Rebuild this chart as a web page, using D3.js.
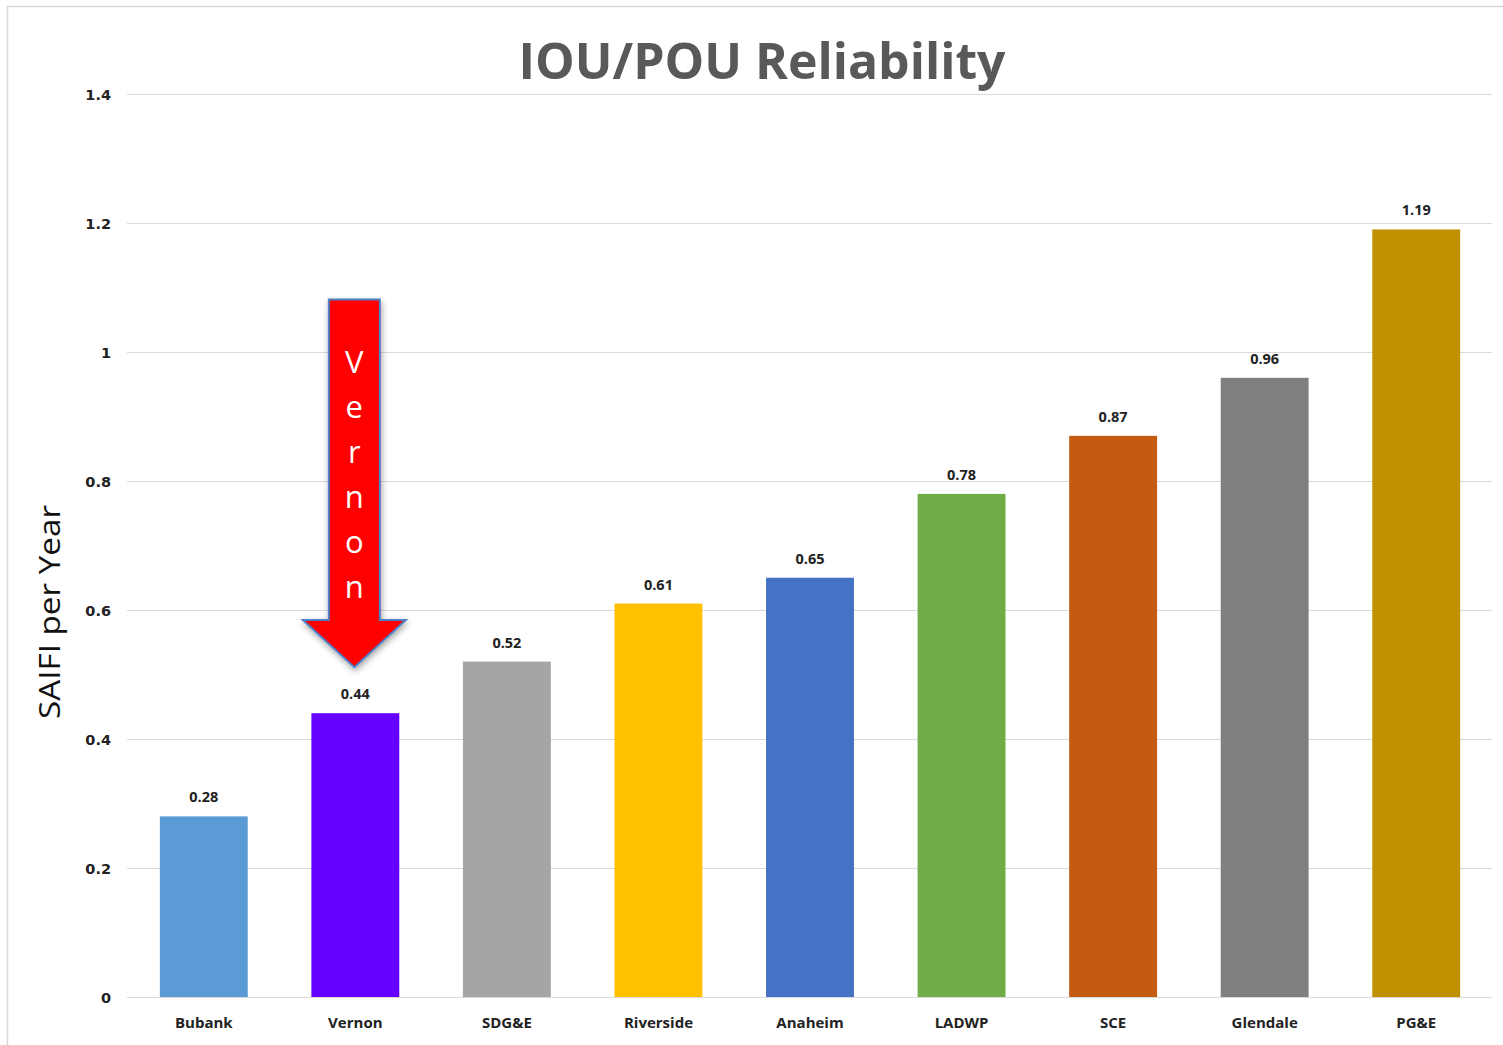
<!DOCTYPE html>
<html><head><meta charset="utf-8">
<script src="https://cdn.jsdelivr.net/npm/d3@7"></script>
<style>body{margin:0;background:#fff;} svg{display:block;}</style>
</head><body>
<script>
const categories = ["Bubank","Vernon","SDG&E","Riverside","Anaheim","LADWP","SCE","Glendale","PG&E"];
const values = [0.28,0.44,0.52,0.61,0.65,0.78,0.87,0.96,1.19];
const colors = ["#5B9BD5","#6600FF","#A5A5A5","#FFC000","#4472C4","#70AD47","#C55A11","#7F7F7F","#BF9000"];
const yTicks = [0,0.2,0.4,0.6,0.8,1,1.2,1.4];
const yTickLabels = ["0","0.2","0.4","0.6","0.8","1","1.2","1.4"];
const arrowLetters = ["V","e","r","n","o","n"];

(function(){
const W = 1503, H = 1045;
const svg = d3.select("body").append("svg").attr("width", W).attr("height", H);
svg.append("rect").attr("x",0).attr("y",0).attr("width",W).attr("height",H).attr("fill","#fff");
// outer chart border
svg.append("path").attr("d", `M7.5,${H} L7.5,6.5 L${W},6.5`).attr("fill","none").attr("stroke","#D9D9D9").attr("stroke-width",1.5);

const pLeft = 127, pRight = 1492, pTop = 94, pBottom = 997;
const x = d3.scaleBand().domain(categories).range([128, 1492]).paddingInner(0.42).paddingOuter(0.21);
const y = d3.scaleLinear().domain([0, 1.4]).range([pBottom, pTop]);

// gridlines
svg.append("g").selectAll("line").data(yTicks).join("line")
  .attr("x1", pLeft).attr("x2", pRight)
  .attr("y1", d => Math.round(y(d)) + 0.5).attr("y2", d => Math.round(y(d)) + 0.5)
  .attr("stroke", "#D9D9D9").attr("stroke-width", 1);

// y tick labels
const yAxis = d3.axisLeft(y).tickValues(yTicks).tickFormat((d,i) => yTickLabels[i]).tickSize(0).tickPadding(0);
const ga = svg.append("g").attr("transform", `translate(111,0)`).call(yAxis);
ga.select(".domain").remove();
ga.selectAll("text").attr("font-family","'DejaVu Sans', sans-serif").attr("font-weight","bold")
  .attr("font-size", 14.5).attr("fill","#222").attr("dy","0.35em");

// bars
svg.append("g").selectAll("rect").data(values).join("rect")
  .attr("x", (d,i) => x(categories[i])).attr("width", x.bandwidth())
  .attr("y", d => y(d)).attr("height", d => y(0) - y(d))
  .attr("fill", (d,i) => colors[i]);

// value labels
svg.append("g").selectAll("text").data(values).join("text")
  .attr("x", (d,i) => x(categories[i]) + x.bandwidth()/2)
  .attr("y", d => y(d) - 14)
  .attr("text-anchor","middle")
  .attr("font-family","'Open Sans', sans-serif").attr("font-weight","bold")
  .attr("font-size", 14.5).attr("fill","#222")
  .text(d => d.toFixed(2));

// x labels
const xAxis = d3.axisBottom(x).tickSize(0).tickPadding(0);
const gx = svg.append("g").attr("transform", `translate(0,${pBottom})`).call(xAxis);
gx.select(".domain").remove();
gx.selectAll("text").attr("y", 31).attr("dy", 0)
  .attr("font-family","'Open Sans', sans-serif").attr("font-weight","bold")
  .attr("font-size", 15).attr("fill","#222");

// title
svg.append("text").attr("x", 762).attr("y", 79).attr("text-anchor","middle")
  .attr("font-family","'Open Sans', sans-serif").attr("font-weight","bold")
  .attr("font-size", 50).attr("fill","#595959").attr("textLength", 487).attr("lengthAdjust","spacingAndGlyphs")
  .text("IOU/POU Reliability");

// y axis title
svg.append("text").attr("transform", "translate(60,612) rotate(-90)").attr("text-anchor","middle")
  .attr("font-family","'Open Sans', sans-serif").attr("font-size", 29).attr("fill","#111")
  .attr("textLength", 214).attr("lengthAdjust","spacingAndGlyphs")
  .text("SAIFI per Year");

// arrow annotation pointing at Vernon
const vi = categories.indexOf("Vernon");
const cx = x(categories[vi]) + x.bandwidth()/2 - 1;
const shaftW = 51, headW = 103, topY = 299.5, headY = 620, tipY = y(values[vi]) - 46;
const arrowPath = `M${cx-shaftW/2},${topY} L${cx+shaftW/2},${topY} L${cx+shaftW/2},${headY} L${cx+headW/2},${headY} L${cx},${tipY} L${cx-headW/2},${headY} L${cx-shaftW/2},${headY} Z`;
const defs = svg.append("defs");
const f = defs.append("filter").attr("id","sh").attr("x","-30%").attr("y","-10%").attr("width","160%").attr("height","130%");
f.append("feDropShadow").attr("dx",1).attr("dy",3).attr("stdDeviation",3).attr("flood-color","#000").attr("flood-opacity",0.35);
svg.append("path").attr("d", arrowPath).attr("fill","#FF0000").attr("stroke","#4F7FC4").attr("stroke-width",2).attr("filter","url(#sh)");
svg.append("g").selectAll("text").data(arrowLetters).join("text")
  .attr("x", cx).attr("y", (d,i) => 373 + i*45).attr("text-anchor","middle")
  .attr("font-family","'Open Sans', sans-serif").attr("font-size", 31).attr("fill","#fff")
  .text(d => d);
})();
</script>
</body></html>
